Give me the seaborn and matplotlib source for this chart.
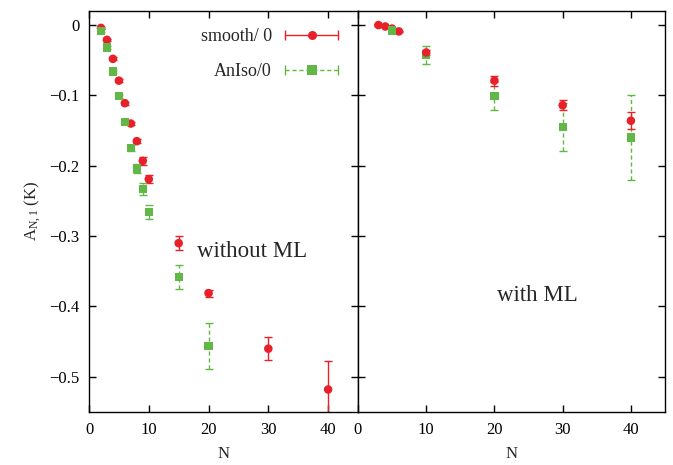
import matplotlib
matplotlib.use("Agg")
import matplotlib.pyplot as plt
import seaborn as sns
import numpy as np
import pandas as pd
from matplotlib.lines import Line2D
from matplotlib.legend_handler import HandlerBase

sns.set_theme(style="ticks")
plt.rcParams['font.family'] = ['Liberation Serif', 'DejaVu Serif']
plt.rcParams['mathtext.fontset'] = 'custom'
plt.rcParams['mathtext.rm'] = 'Liberation Serif'
plt.rcParams['mathtext.it'] = 'Liberation Serif:italic'

RED = "#e8202a"
GREEN = "#62b846"

# ---- data: without ML ----
n_smooth_noml = [2, 3, 4, 5, 6, 7, 8, 9, 10, 15, 20, 30, 40]
a_smooth_noml = [-0.004, -0.021, -0.048, -0.079, -0.111, -0.140, -0.165, -0.193, -0.219,
                 -0.310, -0.381, -0.460, -0.518]
e_smooth_noml = [0.001, 0.001, 0.002, 0.002, 0.002, 0.002, 0.003, 0.006, 0.006,
                 0.010, 0.005, 0.016, 0.040]

n_aniso_noml = [2, 3, 4, 5, 6, 7, 8, 9, 10, 15, 20]
a_aniso_noml = [-0.008, -0.032, -0.066, -0.101, -0.138, -0.175, -0.204, -0.233, -0.266,
                -0.358, -0.456]
e_aniso_noml = [0.002, 0.002, 0.002, 0.002, 0.003, 0.004, 0.006, 0.008, 0.010,
                0.017, 0.033]

# ---- data: with ML ----
n_smooth_ml = [3, 4, 5, 6, 10, 20, 30, 40]
a_smooth_ml = [0.000, -0.002, -0.005, -0.009, -0.039, -0.079, -0.114, -0.136]
e_smooth_ml = [0.001, 0.001, 0.001, 0.001, 0.004, 0.007, 0.007, 0.012]

n_aniso_ml = [5, 10, 20, 30, 40]
a_aniso_ml = [-0.0075, -0.043, -0.101, -0.145, -0.160]
e_aniso_ml = [0.002, 0.013, 0.020, 0.034, 0.060]

x_ticks = [0, 10, 20, 30, 40]
y_ticks = [0, -0.1, -0.2, -0.3, -0.4, -0.5]

fig = plt.figure(figsize=(6.73, 4.65), dpi=100)
gs = fig.add_gridspec(1, 2, width_ratios=[269, 307], wspace=0,
                      left=89/673, right=665/673, top=1-11/465, bottom=1-412/465)
ax1 = fig.add_subplot(gs[0])
ax2 = fig.add_subplot(gs[1], sharey=ax1)


def draw(ax, n, a, e, color, marker, dashed):
    df = pd.DataFrame({"N": n, "A": a})
    eb = ax.errorbar(n, a, yerr=e, fmt="none", ecolor=color, elinewidth=1.0,
                     capsize=3, capthick=1.0, zorder=2)
    if dashed:
        for lc in eb[2]:
            lc.set_linestyle((0, (3, 2)))
    sns.scatterplot(data=df, x="N", y="A", ax=ax, color=color, marker=marker,
                    s=38 if marker == "o" else 36, edgecolor="none", linewidth=0,
                    zorder=3, legend=False)


draw(ax1, n_smooth_noml, a_smooth_noml, e_smooth_noml, RED, "o", False)
draw(ax1, n_aniso_noml, a_aniso_noml, e_aniso_noml, GREEN, "s", True)
draw(ax2, n_aniso_ml, a_aniso_ml, e_aniso_ml, GREEN, "s", True)
draw(ax2, n_smooth_ml, a_smooth_ml, e_smooth_ml, RED, "o", False)
# redraw green at N=5 on top as in reference
sns.scatterplot(x=n_aniso_ml[:1], y=a_aniso_ml[:1], ax=ax2, color=GREEN, marker="s",
                s=36, edgecolor="none", zorder=4, legend=False)

for ax in (ax1, ax2):
    ax.set_xlim(0, 45)
    ax.set_ylim(-0.55, 0.02)
    ax.set_xticks(x_ticks)
    ax.set_xticklabels([str(t) for t in x_ticks])
    ax.tick_params(direction="in", top=True, right=True, length=5, width=1,
                   labelsize=12, colors="black", pad=7)
    for sp in ax.spines.values():
        sp.set_linewidth(1.0)
        sp.set_color("black")
    ax.set_xlabel("N", fontsize=12, labelpad=6)
    ax.set_ylabel("")

ax1.set_yticks(y_ticks)
ax1.set_yticklabels(["0", "\u22120.1", "\u22120.2", "\u22120.3", "\u22120.4", "\u22120.5"])
ax2.tick_params(labelleft=False)
ax1.set_ylabel(r"A$_{\rm N,1}$ (K)", fontsize=12, labelpad=4)

ax1.text(0.606, 0.40, "without ML", transform=ax1.transAxes, fontsize=16.5,
         ha="center", va="center")
ax2.text(0.583, 0.29, "with ML", transform=ax2.transAxes, fontsize=16.5,
         ha="center", va="center")


class HandlerGP(HandlerBase):
    def __init__(self, color, marker, dashed):
        super().__init__()
        self.color, self.marker, self.dashed = color, marker, dashed

    def create_artists(self, legend, orig_handle, xdescent, ydescent, width, height,
                       fontsize, trans):
        y = height / 2 - ydescent
        x0, x1 = -xdescent, -xdescent + width
        ls = (0, (3, 2)) if self.dashed else "-"
        line = Line2D([x0, x1], [y, y], color=self.color, lw=1.0, linestyle=ls,
                      transform=trans)
        caps = Line2D([x0, x1], [y, y], color=self.color, lw=0, marker="|",
                      markersize=7, markeredgewidth=1.0, transform=trans)
        mk = Line2D([(x0 + x1) / 2], [y], color=self.color, lw=0, marker=self.marker,
                    markersize=6.5, markeredgewidth=0, transform=trans)
        return [line, caps, mk]


h1 = Line2D([], [], color=RED)
h2 = Line2D([], [], color=GREEN)
ax1.legend([h1, h2], ["smooth/ 0", "AnIso/0"],
           handler_map={h1: HandlerGP(RED, "o", False), h2: HandlerGP(GREEN, "s", True)},
           loc="upper right", bbox_to_anchor=(0.925, 0.957), frameon=False,
           markerfirst=False, fontsize=13, handlelength=2.9, handletextpad=0.75,
           labelspacing=1.0, borderaxespad=0, borderpad=0)

fig.savefig("out.png", dpi=100)
